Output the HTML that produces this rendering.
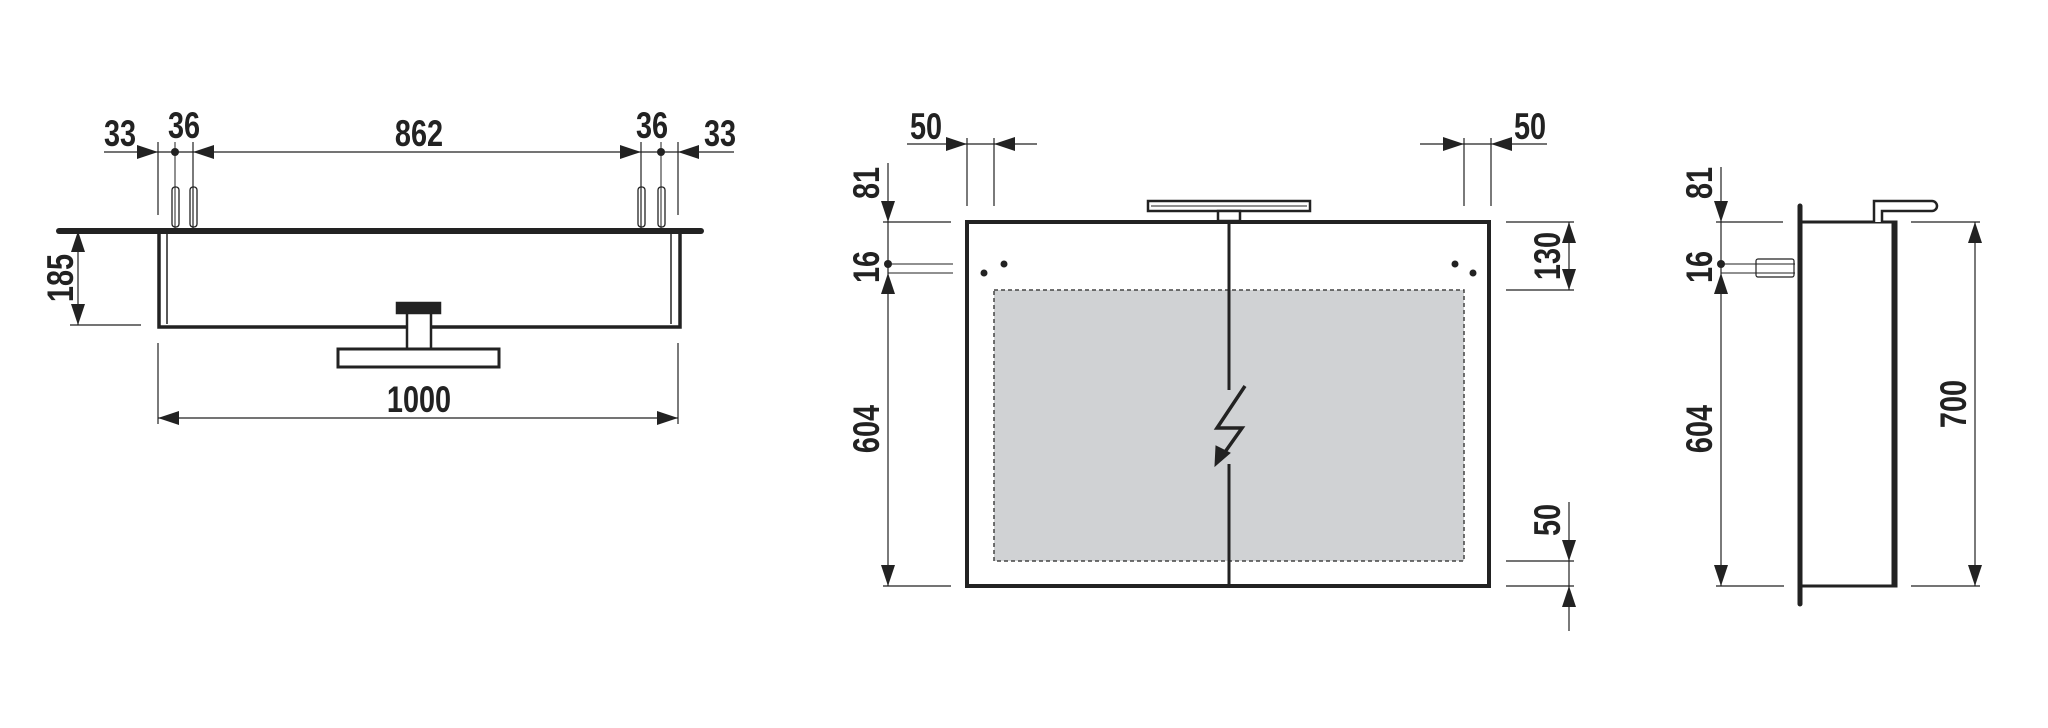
<!DOCTYPE html>
<html><head><meta charset="utf-8"><style>
html,body{margin:0;padding:0;background:#fff;}
svg{display:block;}
text{font-family:"Liberation Sans Narrow","Liberation Sans",sans-serif;font-weight:bold;font-size:37px;fill:#222;}
</style></head><body>
<svg width="2048" height="728" viewBox="0 0 2048 728" xmlns="http://www.w3.org/2000/svg">
<g stroke="#222" fill="none">
<!-- LEFT VIEW -->
<line x1="59" y1="231" x2="701" y2="231" stroke-width="6" stroke-linecap="round"/>
<path d="M159 231 V327 H680 V231" stroke-width="3.5"/>
<line x1="167" y1="234" x2="167" y2="324" stroke-width="1.5"/>
<line x1="671" y1="234" x2="671" y2="324" stroke-width="1.5"/>
<line x1="104" y1="152" x2="734" y2="152" stroke-width="1.2"/>
<line x1="158" y1="142" x2="158" y2="215" stroke-width="1.2"/>
<line x1="175" y1="142" x2="175" y2="228" stroke-width="1"/>
<line x1="193" y1="142" x2="193" y2="228" stroke-width="1.2"/>
<line x1="641" y1="142" x2="641" y2="228" stroke-width="1.2"/>
<line x1="661" y1="142" x2="661" y2="228" stroke-width="1"/>
<line x1="678" y1="142" x2="678" y2="215" stroke-width="1.2"/>
<g stroke-width="1.3">
<rect x="172" y="187" width="7" height="40" rx="3"/>
<rect x="190" y="187" width="7" height="40" rx="3"/>
<rect x="638" y="187" width="7" height="40" rx="3"/>
<rect x="658" y="187" width="7" height="40" rx="3"/>
</g>
<line x1="78" y1="231" x2="78" y2="325" stroke-width="1.2"/>
<line x1="70" y1="325" x2="141" y2="325" stroke-width="1.2"/>
<rect x="397" y="303" width="43" height="10" stroke-width="2.5" fill="#222"/>
<rect x="407" y="313" width="24" height="36" stroke-width="2.5" fill="#fff"/>
<rect x="338" y="349" width="161" height="18" stroke-width="3" fill="#fff"/>
<line x1="158" y1="343" x2="158" y2="424" stroke-width="1.2"/>
<line x1="678" y1="343" x2="678" y2="424" stroke-width="1.2"/>
<line x1="158" y1="418" x2="678" y2="418" stroke-width="1.2"/>

<!-- FRONT VIEW -->
<rect x="994" y="290" width="470" height="271" fill="#d0d2d4" stroke="#444" stroke-width="1.5" stroke-dasharray="4 3"/>
<rect x="967" y="222" width="522" height="364" stroke-width="4"/>
<line x1="1229" y1="220" x2="1229" y2="390" stroke-width="3"/>
<line x1="1229" y1="464" x2="1229" y2="586" stroke-width="3"/>
<rect x="1148" y="201" width="162" height="10" stroke-width="2.5" fill="#fff"/>
<line x1="1151" y1="206" x2="1307" y2="206" stroke-width="1"/>
<rect x="1218" y="211" width="22" height="10" stroke-width="2.5" fill="#fff"/>
<polyline points="1245,386 1217,428 1242,428 1225,452" stroke-width="3.5"/>
<polygon points="1215,466 1216,446 1230,453" fill="#222" stroke-width="1"/>
<line x1="907" y1="144" x2="1037" y2="144" stroke-width="1.2"/>
<line x1="967" y1="138" x2="967" y2="206" stroke-width="1.2"/>
<line x1="994" y1="138" x2="994" y2="206" stroke-width="1.2"/>
<line x1="1420" y1="144" x2="1547" y2="144" stroke-width="1.2"/>
<line x1="1464" y1="138" x2="1464" y2="206" stroke-width="1.2"/>
<line x1="1491" y1="138" x2="1491" y2="206" stroke-width="1.2"/>
<line x1="888" y1="163" x2="888" y2="586" stroke-width="1.2"/>
<line x1="883" y1="222" x2="951" y2="222" stroke-width="1.2"/>
<line x1="888" y1="264" x2="953" y2="264" stroke-width="1"/>
<line x1="888" y1="273" x2="953" y2="273" stroke-width="1"/>
<line x1="883" y1="586" x2="951" y2="586" stroke-width="1.2"/>
<line x1="1569" y1="222" x2="1569" y2="290" stroke-width="1.2"/>
<line x1="1506" y1="222" x2="1574" y2="222" stroke-width="1.2"/>
<line x1="1506" y1="290" x2="1574" y2="290" stroke-width="1.2"/>
<line x1="1569" y1="502" x2="1569" y2="631" stroke-width="1.2"/>
<line x1="1506" y1="561" x2="1574" y2="561" stroke-width="1.2"/>
<line x1="1506" y1="586" x2="1574" y2="586" stroke-width="1.2"/>

<!-- SIDE VIEW -->
<line x1="1800" y1="206" x2="1800" y2="604" stroke-width="5" stroke-linecap="round"/>
<path d="M1802 222 H1896 V586 H1802" stroke-width="3"/>
<line x1="1894" y1="222" x2="1894" y2="586" stroke-width="5"/>
<path d="M1874 222 V201 H1932 A5 5 0 0 1 1932 211 H1882 V222" stroke-width="2.5" fill="#fff"/>
<line x1="1721" y1="167" x2="1721" y2="586" stroke-width="1.2"/>
<line x1="1716" y1="222" x2="1783" y2="222" stroke-width="1.2"/>
<line x1="1721" y1="264" x2="1795" y2="264" stroke-width="1"/>
<line x1="1721" y1="273" x2="1795" y2="273" stroke-width="1"/>
<rect x="1756" y="259" width="38" height="18" rx="2" stroke-width="1.2"/>
<line x1="1716" y1="586" x2="1784" y2="586" stroke-width="1.2"/>
<line x1="1975" y1="222" x2="1975" y2="586" stroke-width="1.2"/>
<line x1="1911" y1="222" x2="1980" y2="222" stroke-width="1.2"/>
<line x1="1911" y1="586" x2="1980" y2="586" stroke-width="1.2"/>
</g>

<g fill="#222" stroke="none">
<polygon points="137,145 158,152 137,159"/>
<polygon points="214,145 193,152 214,159"/>
<polygon points="620,145 641,152 620,159"/>
<polygon points="699,145 678,152 699,159"/>
<circle cx="175" cy="152" r="4"/><circle cx="661" cy="152" r="4"/>
<polygon points="71,252 78,231 85,252"/>
<polygon points="71,304 78,325 85,304"/>
<polygon points="179,411 158,418 179,425"/>
<polygon points="657,411 678,418 657,425"/>
<polygon points="946,137 967,144 946,151"/>
<polygon points="1015,137 994,144 1015,151"/>
<polygon points="1443,137 1464,144 1443,151"/>
<polygon points="1512,137 1491,144 1512,151"/>
<polygon points="881,201 888,222 895,201"/>
<circle cx="888" cy="264" r="4"/>
<polygon points="881,294 888,273 895,294"/>
<polygon points="881,565 888,586 895,565"/>
<polygon points="1562,243 1569,222 1576,243"/>
<polygon points="1562,269 1569,290 1576,269"/>
<polygon points="1562,540 1569,561 1576,540"/>
<polygon points="1562,607 1569,586 1576,607"/>
<circle cx="984" cy="273" r="3.5"/><circle cx="1004" cy="264" r="3.5"/>
<circle cx="1455" cy="264" r="3.5"/><circle cx="1473" cy="273" r="3.5"/>
<polygon points="1714,201 1721,222 1728,201"/>
<circle cx="1721" cy="264" r="4"/>
<polygon points="1714,294 1721,273 1728,294"/>
<polygon points="1714,565 1721,586 1728,565"/>
<polygon points="1968,243 1975,222 1982,243"/>
<polygon points="1968,565 1975,586 1982,565"/>
</g>

<g text-anchor="middle">
<text transform="translate(120,146) scale(0.78,1)">33</text>
<text transform="translate(184,138) scale(0.78,1)">36</text>
<text transform="translate(419,146) scale(0.78,1)">862</text>
<text transform="translate(652,138) scale(0.78,1)">36</text>
<text transform="translate(720,146) scale(0.78,1)">33</text>
<text transform="translate(419,412) scale(0.78,1)">1000</text>
<text transform="translate(73,278) rotate(-90) scale(0.78,1)">185</text>
<text transform="translate(926,139) scale(0.78,1)">50</text>
<text transform="translate(1530,139) scale(0.78,1)">50</text>
<text transform="translate(879,183) rotate(-90) scale(0.78,1)">81</text>
<text transform="translate(879,267) rotate(-90) scale(0.78,1)">16</text>
<text transform="translate(879,429) rotate(-90) scale(0.78,1)">604</text>
<text transform="translate(1560,256) rotate(-90) scale(0.78,1)">130</text>
<text transform="translate(1560,520) rotate(-90) scale(0.78,1)">50</text>
<text transform="translate(1712,183) rotate(-90) scale(0.78,1)">81</text>
<text transform="translate(1712,267) rotate(-90) scale(0.78,1)">16</text>
<text transform="translate(1712,429) rotate(-90) scale(0.78,1)">604</text>
<text transform="translate(1966,404) rotate(-90) scale(0.78,1)">700</text>
</g>
</svg>
</body></html>
